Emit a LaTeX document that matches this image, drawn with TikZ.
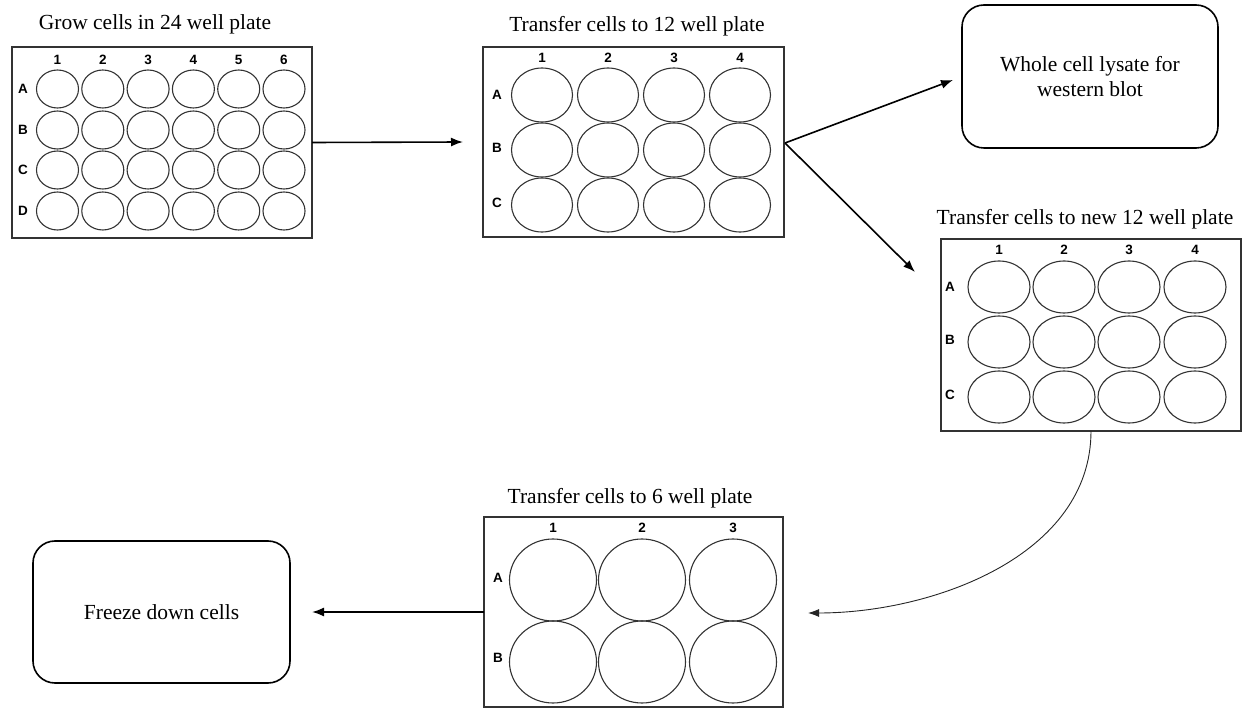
\documentclass[tikz,border=0pt]{standalone}
\usepackage{fontspec}
\setmainfont{Liberation Serif}
\newfontfamily\labfont{Liberation Sans}
\usetikzlibrary{arrows.meta}
\begin{document}
\begin{tikzpicture}[x=1pt,y=-1pt,
  plate/.style={draw=black!80,line width=1.4pt,inner sep=0pt,outer sep=0pt},
  well/.style={draw=black!80,line width=1.1pt},
  lab/.style={font=\labfont\bfseries\fontsize{13.5}{13.5}\selectfont,inner sep=0pt},
  ttl/.style={font=\fontsize{21.5}{24}\selectfont,inner sep=0pt},
  rbox/.style={draw,line width=1.6pt,rounded corners=22pt,align=center,inner sep=0pt,outer sep=0pt,font=\fontsize{21.5}{25}\selectfont},
  arr/.style={-{Latex[length=12pt,width=9pt]},line width=1.6pt}]
\useasboundingbox (0,0) rectangle (1248,708);

% plate 1 (24 well)
\node[plate,minimum width=300pt,minimum height=191pt] (p1) at (162,142.5) {};
\node[ttl] (t1) at (155,24) {Grow cells in 24 well plate};
\foreach \x [count=\i] in {57.5,102.8,148.1,193.4,238.7,284}{
  \node[lab] (p1c\i) at (\x,60) {\i};
  \foreach \y in {89,130,170,211}
    \draw[well] (\x,\y) ellipse [x radius=21,y radius=19];
}
\foreach \y/\r in {89/A,130/B,170/C,211/D} \node[lab] (p1r\r) at (23,\y) {\r};

% plate 2 (12 well)
\node[plate,minimum width=301pt,minimum height=190pt] (p2) at (633.5,142) {};
\node[ttl] (t2) at (637,26) {Transfer cells to 12 well plate};
\foreach \x [count=\i] in {542,608,674,740}{
  \node[lab] (p2c\i) at (\x,58) {\i};
  \foreach \y in {95,150,205}
    \draw[well] (\x,\y) ellipse [x radius=30.5,y radius=27];
}
\foreach \y/\r in {95/A,148/B,203/C} \node[lab] (p2r\r) at (497,\y) {\r};

% box 1
\node[rbox,minimum width=256pt,minimum height=143pt] (b1) at (1090,76.5) {Whole cell lysate for\\western blot};

% plate 3 (new 12 well)
\node[plate,minimum width=300pt,minimum height=192pt] (p3) at (1091,335) {};
\node[ttl] (t3) at (1085,219) {Transfer cells to new 12 well plate};
\foreach \x [count=\i] in {999,1064,1129,1195}{
  \node[lab] (p3c\i) at (\x,250) {\i};
  \foreach \y in {287,342,397}
    \draw[well] (\x,\y) ellipse [x radius=31,y radius=26];
}
\foreach \y/\r in {287/A,340/B,395/C} \node[lab] (p3r\r) at (950,\y) {\r};

% plate 4 (6 well)
\node[plate,minimum width=299pt,minimum height=190pt] (p4) at (633.5,612) {};
\node[ttl] (t4) at (630,498) {Transfer cells to 6 well plate};
\foreach \x [count=\i] in {553,642,733}{
  \node[lab] (p4c\i) at (\x,528) {\i};
  \foreach \y in {580,662}
    \draw[well] (\x,\y) ellipse [x radius=43.5,y radius=41];
}
\foreach \y/\r in {578/A,658/B} \node[lab] (p4r\r) at (498,\y) {\r};

% box 2
\node[rbox,minimum width=257pt,minimum height=142pt] (b2) at (161.5,612) {Freeze down cells};

% arrow end points
\coordinate (e1) at (463,142);
\coordinate (s2) at (785,143);
\coordinate (e2) at (953,80);
\coordinate (e3) at (915,272);
\coordinate (e4) at (808,613);
\coordinate (e5) at (312,612);

% connectors
\draw[arr] (p1.east) -- (e1);
\draw[arr] (s2) -- (e2);
\draw[arr] (s2) -- (e3);
\draw[-{Latex[length=11pt,width=8pt]},line width=0.9pt,black!85] (p3.south) to[out=-90,in=0,looseness=0.95] (e4);
\draw[arr] (p4.west) -- (e5);
\end{tikzpicture}
\end{document}
